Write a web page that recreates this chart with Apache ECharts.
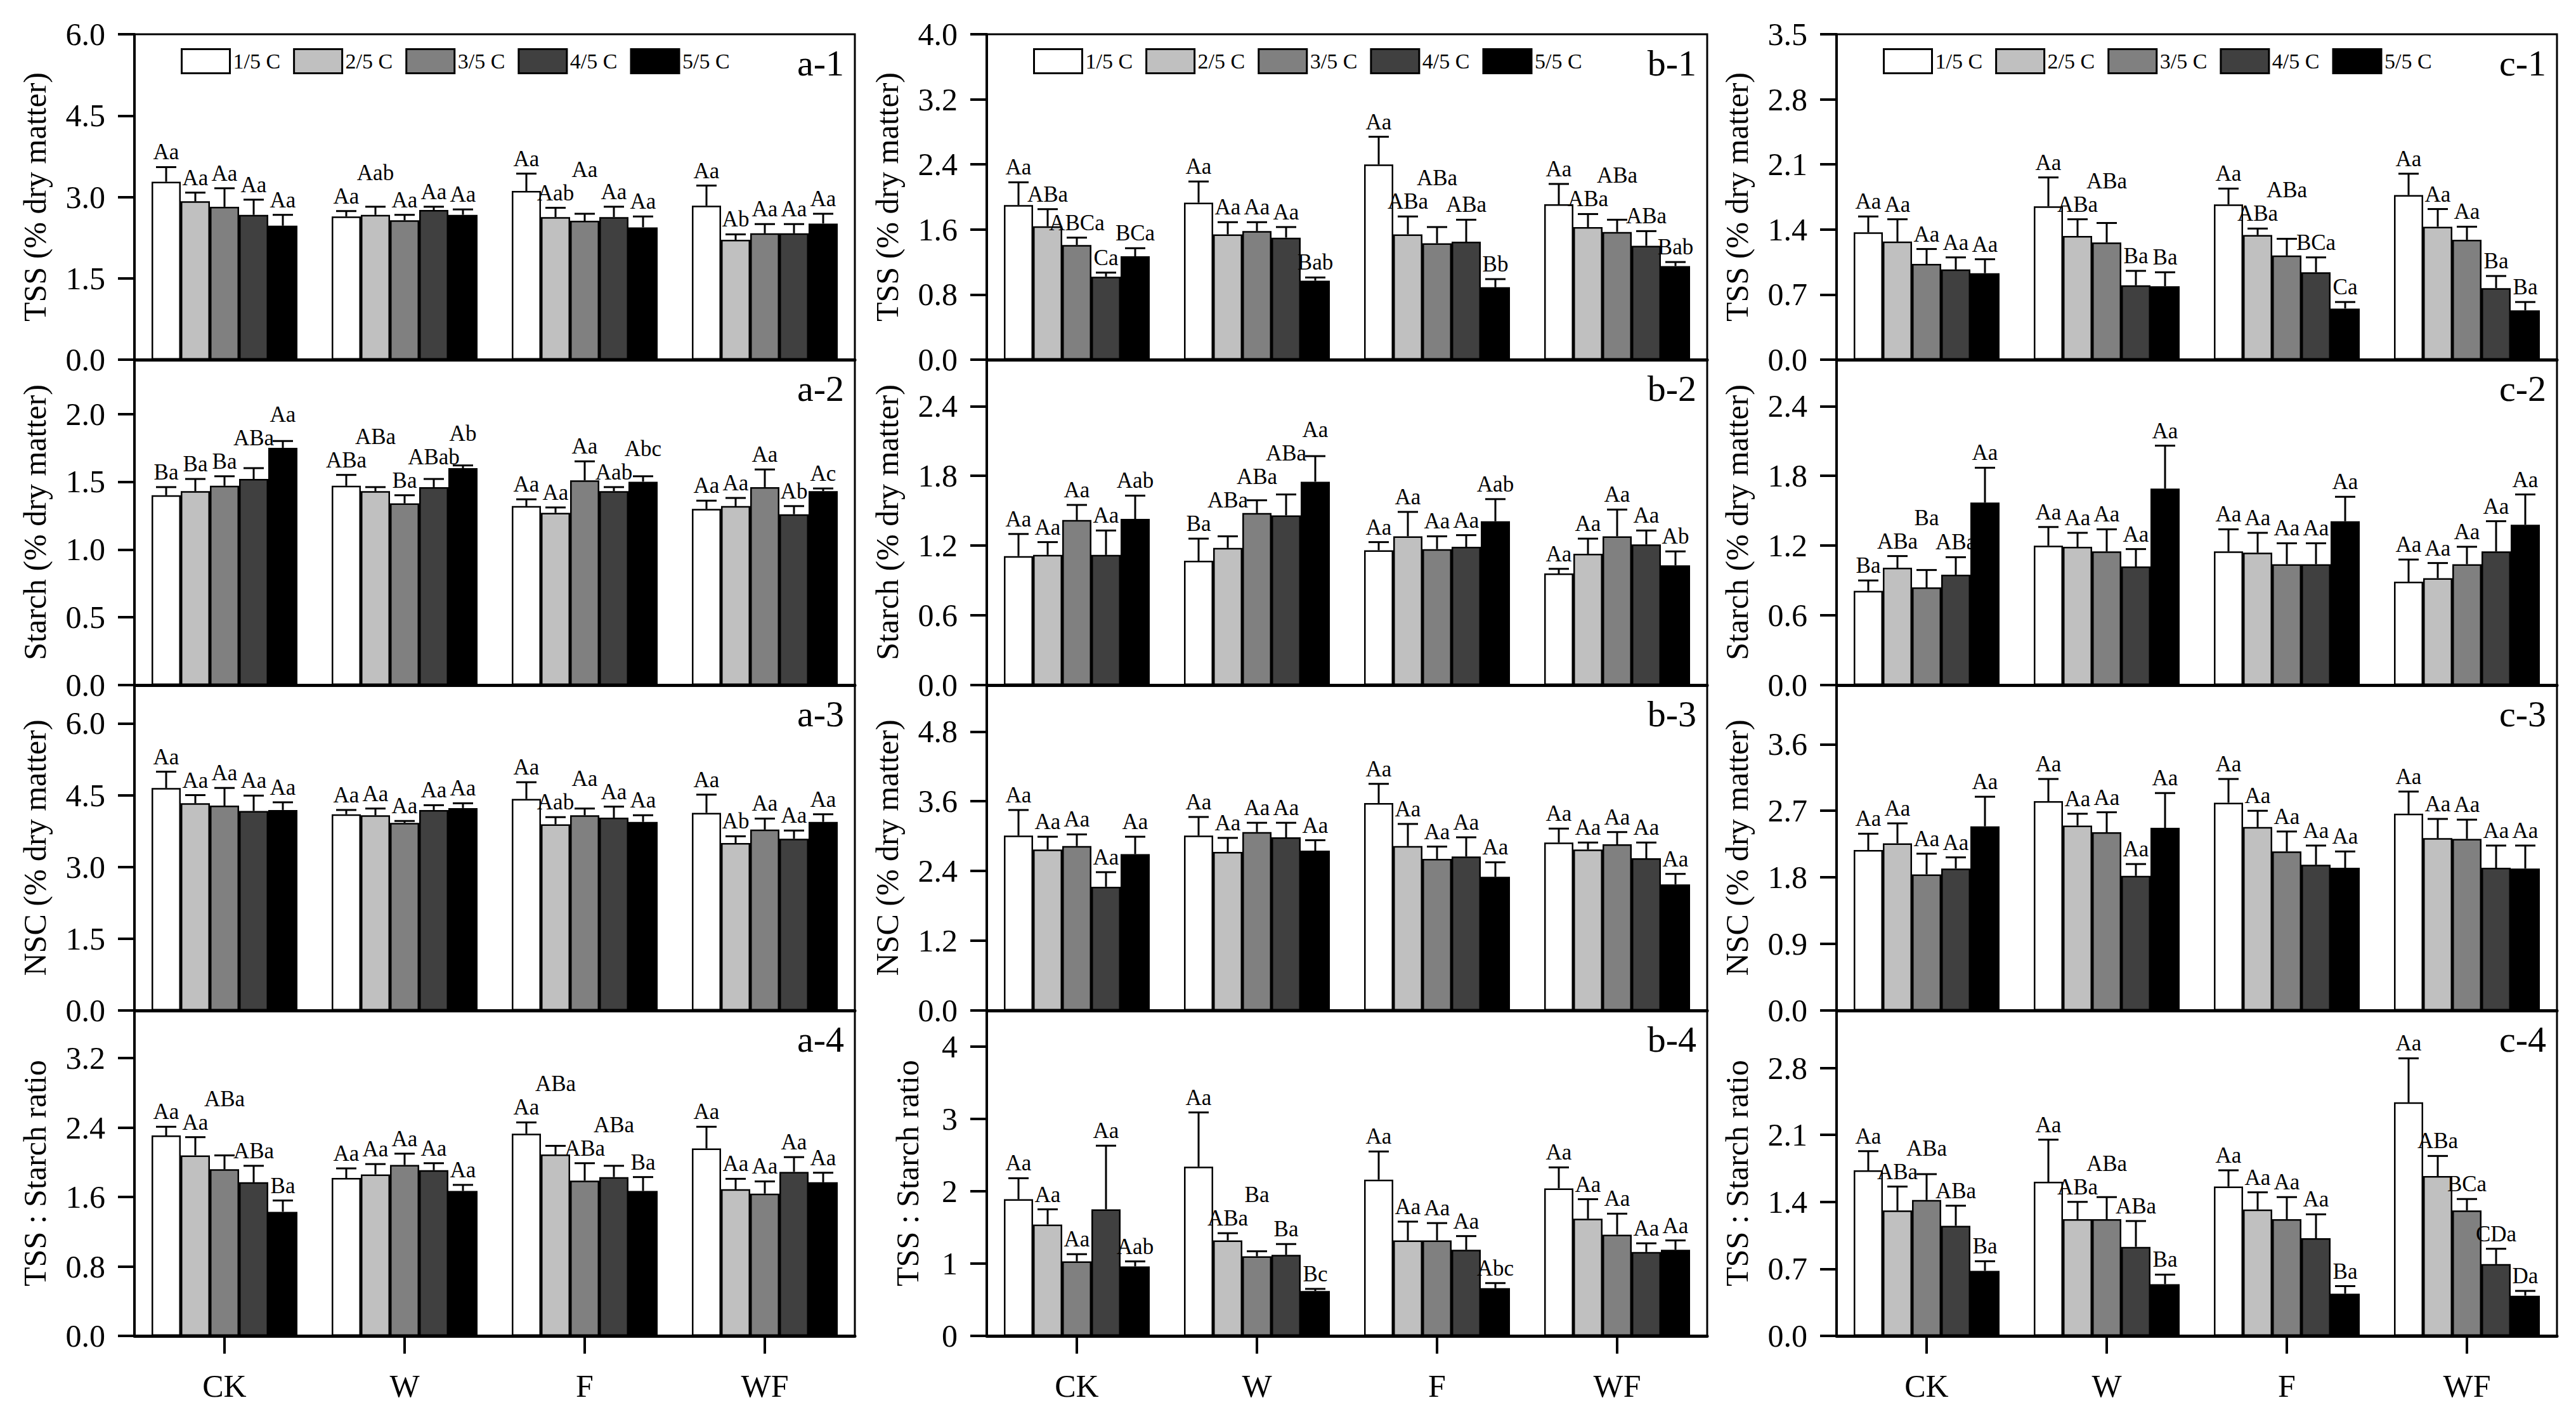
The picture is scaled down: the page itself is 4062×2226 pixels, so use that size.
<!DOCTYPE html>
<html>
<head>
<meta charset="utf-8">
<title>TSS, starch, NSC and TSS:starch ratio</title>
<script src="https://cdn.jsdelivr.net/npm/echarts/dist/echarts.min.js"></script>
<style>
  html, body { margin: 0; padding: 0; background: #fff; }
  #main { width: 4062px; height: 2226px; }
</style>
</head>
<body>
<div id="main"></div>
<script>
'use strict';

const groups = ['CK', 'W', 'F', 'WF'];
const levels = ['1/5 C', '2/5 C', '3/5 C', '4/5 C', '5/5 C'];
const yNames = ['TSS (% dry matter)', 'Starch (% dry matter)', 'NSC (% dry matter)', 'TSS : Starch ratio'];

// rows = CK, W, F, WF ; columns = 1/5 C ... 5/5 C
const a1Mean = [[3.28, 2.92, 2.82, 2.67, 2.47], [2.64, 2.67, 2.57, 2.76, 2.67], [3.11, 2.63, 2.56, 2.63, 2.44], [2.84, 2.21, 2.33, 2.33, 2.51]];
const a1Sd = [[0.27, 0.16, 0.34, 0.28, 0.20], [0.10, 0.15, 0.10, 0.06, 0.10], [0.32, 0.17, 0.13, 0.19, 0.20], [0.37, 0.10, 0.17, 0.17, 0.18]];
const a1Sig = [['Aa', 'Aa', 'Aa', 'Aa', 'Aa'], ['Aa', 'Aab', 'Aa', 'Aa', 'Aa'], ['Aa', 'Aab', 'Aa', 'Aa', 'Aa'], ['Aa', 'Ab', 'Aa', 'Aa', 'Aa']];

const a2Mean = [[1.40, 1.43, 1.47, 1.52, 1.75], [1.47, 1.43, 1.34, 1.46, 1.60], [1.32, 1.27, 1.51, 1.43, 1.50], [1.30, 1.32, 1.46, 1.26, 1.43]];
const a2Sd = [[0.06, 0.09, 0.07, 0.08, 0.05], [0.08, 0.03, 0.06, 0.06, 0.02], [0.05, 0.04, 0.14, 0.03, 0.04], [0.06, 0.06, 0.13, 0.06, 0.02]];
const a2Sig = [['Ba', 'Ba', 'Ba', 'ABa', 'Aa'], ['ABa', 'ABa', 'Ba', 'ABab', 'Ab'], ['Aa', 'Aa', 'Aa', 'Aab', 'Abc'], ['Aa', 'Aa', 'Aa', 'Ab', 'Ac']];

const a3Mean = [[4.65, 4.33, 4.28, 4.17, 4.19], [4.10, 4.08, 3.92, 4.19, 4.23], [4.42, 3.89, 4.08, 4.03, 3.94], [4.13, 3.50, 3.78, 3.59, 3.94]];
const a3Sd = [[0.34, 0.17, 0.37, 0.32, 0.16], [0.09, 0.14, 0.04, 0.10, 0.10], [0.35, 0.15, 0.14, 0.23, 0.14], [0.38, 0.14, 0.23, 0.17, 0.16]];
const a3Sig = [['Aa', 'Aa', 'Aa', 'Aa', 'Aa'], ['Aa', 'Aa', 'Aa', 'Aa', 'Aa'], ['Aa', 'Aab', 'Aa', 'Aa', 'Aa'], ['Aa', 'Ab', 'Aa', 'Aa', 'Aa']];

const a4Mean = [[2.31, 2.08, 1.92, 1.77, 1.43], [1.82, 1.86, 1.97, 1.91, 1.67], [2.33, 2.09, 1.79, 1.83, 1.67], [2.16, 1.69, 1.64, 1.89, 1.77]];
const a4Sd = [[0.10, 0.21, 0.16, 0.19, 0.13], [0.11, 0.12, 0.13, 0.08, 0.07], [0.13, 0.10, 0.20, 0.13, 0.16], [0.25, 0.12, 0.14, 0.17, 0.11]];
const a4Sig = [['Aa', 'Aa', 'ABa', 'ABa', 'Ba'], ['Aa', 'Aa', 'Aa', 'Aa', 'Aa'], ['Aa', 'ABa', 'ABa', 'ABa', 'Ba'], ['Aa', 'Aa', 'Aa', 'Aa', 'Aa']];

const b1Mean = [[1.90, 1.64, 1.41, 1.02, 1.27], [1.93, 1.54, 1.58, 1.50, 0.97], [2.40, 1.54, 1.43, 1.45, 0.89], [1.91, 1.63, 1.57, 1.40, 1.15]];
const b1Sd = [[0.28, 0.21, 0.09, 0.05, 0.10], [0.26, 0.15, 0.11, 0.13, 0.04], [0.34, 0.22, 0.20, 0.27, 0.10], [0.25, 0.16, 0.15, 0.18, 0.05]];
const b1Sig = [['Aa', 'ABa', 'ABCa', 'Ca', 'BCa'], ['Aa', 'Aa', 'Aa', 'Aa', 'Bab'], ['Aa', 'ABa', 'ABa', 'ABa', 'Bb'], ['Aa', 'ABa', 'ABa', 'ABa', 'Bab']];

const b2Mean = [[1.11, 1.12, 1.42, 1.12, 1.43], [1.07, 1.18, 1.48, 1.46, 1.75], [1.16, 1.28, 1.17, 1.19, 1.41], [0.96, 1.13, 1.28, 1.21, 1.03]];
const b2Sd = [[0.19, 0.11, 0.13, 0.21, 0.20], [0.19, 0.10, 0.11, 0.18, 0.22], [0.07, 0.21, 0.11, 0.10, 0.19], [0.04, 0.13, 0.23, 0.12, 0.12]];
const b2Sig = [['Aa', 'Aa', 'Aa', 'Aa', 'Aab'], ['Ba', 'ABa', 'ABa', 'ABa', 'Aa'], ['Aa', 'Aa', 'Aa', 'Aa', 'Aab'], ['Aa', 'Aa', 'Aa', 'Aa', 'Ab']];

const b3Mean = [[3.01, 2.77, 2.83, 2.13, 2.69], [3.01, 2.73, 3.07, 2.98, 2.75], [3.57, 2.83, 2.61, 2.65, 2.30], [2.89, 2.77, 2.86, 2.62, 2.17]];
const b3Sd = [[0.44, 0.22, 0.20, 0.25, 0.30], [0.32, 0.24, 0.16, 0.25, 0.18], [0.33, 0.38, 0.21, 0.33, 0.25], [0.24, 0.12, 0.21, 0.27, 0.18]];
const b3Sig = [['Aa', 'Aa', 'Aa', 'Aa', 'Aa'], ['Aa', 'Aa', 'Aa', 'Aa', 'Aa'], ['Aa', 'Aa', 'Aa', 'Aa', 'Aa'], ['Aa', 'Aa', 'Aa', 'Aa', 'Aa']];

const b4Mean = [[1.89, 1.54, 1.03, 1.75, 0.96], [2.34, 1.32, 1.10, 1.12, 0.62], [2.16, 1.32, 1.32, 1.19, 0.66], [2.04, 1.62, 1.40, 1.16, 1.19]];
const b4Sd = [[0.29, 0.21, 0.10, 0.88, 0.07], [0.75, 0.10, 0.07, 0.15, 0.03], [0.39, 0.26, 0.24, 0.19, 0.07], [0.29, 0.27, 0.29, 0.12, 0.13]];
const b4Sig = [['Aa', 'Aa', 'Aa', 'Aa', 'Aab'], ['Aa', 'ABa', 'Ba', 'Ba', 'Bc'], ['Aa', 'Aa', 'Aa', 'Aa', 'Abc'], ['Aa', 'Aa', 'Aa', 'Aa', 'Aa']];

const c1Mean = [[1.37, 1.27, 1.03, 0.97, 0.93], [1.65, 1.33, 1.26, 0.80, 0.79], [1.67, 1.34, 1.12, 0.94, 0.55], [1.77, 1.43, 1.29, 0.77, 0.53]];
const c1Sd = [[0.17, 0.24, 0.16, 0.13, 0.15], [0.31, 0.18, 0.21, 0.155, 0.15], [0.17, 0.07, 0.18, 0.16, 0.07], [0.23, 0.19, 0.14, 0.13, 0.09]];
const c1Sig = [['Aa', 'Aa', 'Aa', 'Aa', 'Aa'], ['Aa', 'ABa', 'ABa', 'Ba', 'Ba'], ['Aa', 'ABa', 'ABa', 'BCa', 'Ca'], ['Aa', 'Aa', 'Aa', 'Ba', 'Ba']];

const c2Mean = [[0.81, 1.01, 0.84, 0.95, 1.57], [1.20, 1.19, 1.15, 1.02, 1.69], [1.15, 1.14, 1.04, 1.04, 1.41], [0.89, 0.92, 1.04, 1.15, 1.38]];
const c2Sd = [[0.09, 0.10, 0.15, 0.15, 0.30], [0.16, 0.12, 0.19, 0.15, 0.37], [0.19, 0.17, 0.18, 0.18, 0.21], [0.19, 0.13, 0.15, 0.26, 0.26]];
const c2Sig = [['Ba', 'ABa', 'Ba', 'ABa', 'Aa'], ['Aa', 'Aa', 'Aa', 'Aa', 'Aa'], ['Aa', 'Aa', 'Aa', 'Aa', 'Aa'], ['Aa', 'Aa', 'Aa', 'Aa', 'Aa']];

const c3Mean = [[2.17, 2.26, 1.84, 1.92, 2.49], [2.83, 2.50, 2.41, 1.82, 2.47], [2.81, 2.48, 2.15, 1.97, 1.93], [2.66, 2.33, 2.32, 1.93, 1.92]];
const c3Sd = [[0.22, 0.27, 0.28, 0.15, 0.40], [0.30, 0.16, 0.27, 0.16, 0.47], [0.32, 0.22, 0.27, 0.26, 0.22], [0.30, 0.26, 0.26, 0.30, 0.31]];
const c3Sig = [['Aa', 'Aa', 'Aa', 'Aa', 'Aa'], ['Aa', 'Aa', 'Aa', 'Aa', 'Aa'], ['Aa', 'Aa', 'Aa', 'Aa', 'Aa'], ['Aa', 'Aa', 'Aa', 'Aa', 'Aa']];

const c4Mean = [[1.73, 1.31, 1.42, 1.15, 0.68], [1.61, 1.22, 1.22, 0.93, 0.54], [1.56, 1.32, 1.22, 1.02, 0.44], [2.44, 1.67, 1.31, 0.75, 0.42]];
const c4Sd = [[0.20, 0.25, 0.27, 0.21, 0.10], [0.44, 0.18, 0.23, 0.27, 0.10], [0.17, 0.18, 0.23, 0.25, 0.08], [0.46, 0.21, 0.12, 0.16, 0.05]];
const c4Sig = [['Aa', 'ABa', 'ABa', 'ABa', 'Ba'], ['Aa', 'ABa', 'ABa', 'ABa', 'Ba'], ['Aa', 'Aa', 'Aa', 'Aa', 'Ba'], ['Aa', 'ABa', 'BCa', 'CDa', 'Da']];

// y axis ranges: max and tick step of each panel
const axisMax = { a: [6.0, 2.4, 6.8, 3.75], b: [4.0, 2.8, 5.6, 4.5], c: [3.5, 2.8, 4.4, 3.4] };
const axisStep = { a: [1.5, 0.5, 1.5, 0.8], b: [0.8, 0.6, 1.2, 1], c: [0.7, 0.6, 0.9, 0.7] };

const panels = [
    { tag: 'a-1', col: 0, row: 0, mean: a1Mean, sd: a1Sd, sig: a1Sig },
    { tag: 'a-2', col: 0, row: 1, mean: a2Mean, sd: a2Sd, sig: a2Sig },
    { tag: 'a-3', col: 0, row: 2, mean: a3Mean, sd: a3Sd, sig: a3Sig },
    { tag: 'a-4', col: 0, row: 3, mean: a4Mean, sd: a4Sd, sig: a4Sig },
    { tag: 'b-1', col: 1, row: 0, mean: b1Mean, sd: b1Sd, sig: b1Sig },
    { tag: 'b-2', col: 1, row: 1, mean: b2Mean, sd: b2Sd, sig: b2Sig },
    { tag: 'b-3', col: 1, row: 2, mean: b3Mean, sd: b3Sd, sig: b3Sig },
    { tag: 'b-4', col: 1, row: 3, mean: b4Mean, sd: b4Sd, sig: b4Sig },
    { tag: 'c-1', col: 2, row: 0, mean: c1Mean, sd: c1Sd, sig: c1Sig },
    { tag: 'c-2', col: 2, row: 1, mean: c2Mean, sd: c2Sd, sig: c2Sig },
    { tag: 'c-3', col: 2, row: 2, mean: c3Mean, sd: c3Sd, sig: c3Sig },
    { tag: 'c-4', col: 2, row: 3, mean: c4Mean, sd: c4Sd, sig: c4Sig }
];

const FONT = '"Liberation Serif", "Times New Roman", serif';
const colLeft = [212, 1556, 2896];
const gridW = 1136;
const rowTop = [54, 567, 1080, 1593];
const rowH = 513;
const barW = 46;
const barColors = ['#ffffff', '#c0c0c0', '#808080', '#404040', '#000000'];
const SIG_SIZE = 35;

// text width for the letter labels
const measureCtx = document.createElement('canvas').getContext('2d');
measureCtx.font = SIG_SIZE + 'px "Liberation Serif"';
const textW = t => measureCtx.measureText(t).width;

// place the letters of one group above the error bars, lifting a label
// when it would run into one already placed
const placeSig = (api, p, gi) => {
    const out = [];
    const lh = SIG_SIZE + 2;
    for (let s = 0; s < 5; s++) {
        const top = api.coord([gi, p.mean[gi][s] + p.sd[gi][s]]);
        const x = top[0] + (s - 2) * barW;
        const w = textW(p.sig[gi][s]);
        let y = top[1] - 6;
        let moved = true;
        while (moved) {
            moved = false;
            out.forEach(q => {
                const hit = Math.abs(q.x - x) < (q.w + w) / 2 + 2 && y > q.y - lh && y - lh < q.y;
                if (hit) {
                    y = q.y - lh;
                    moved = true;
                }
            });
        }
        out.push({ x: x, y: y, w: w });
    }
    return out;
};

const chart = echarts.init(document.getElementById('main'), null, { renderer: 'svg' });

let option = {
    backgroundColor: '#ffffff',
    animation: false,
    grid: [],
    xAxis: [],
    yAxis: [],
    legend: [],
    graphic: [],
    series: []
};

panels.forEach((p, k) => {
    const colKey = p.tag[0];
    const max = axisMax[colKey][p.row];
    const step = axisStep[colKey][p.row];
    const niceTop = Math.abs(max / step - Math.round(max / step)) < 1e-6;
    const isBottom = p.row === 3;
    const intLabels = p.tag === 'b-4';

    option.grid.push({
        left: colLeft[p.col],
        top: rowTop[p.row],
        width: gridW,
        height: rowH,
        show: true,
        borderColor: '#000',
        borderWidth: 3
    });

    option.xAxis.push({
        type: 'category',
        gridIndex: k,
        data: groups,
        axisLine: { lineStyle: { color: '#000', width: 5 } },
        axisTick: { show: isBottom, alignWithLabel: true, length: 28, lineStyle: { color: '#000', width: 4 } },
        axisLabel: { show: isBottom, margin: 54, fontSize: 50, fontFamily: FONT, color: '#000' },
        splitLine: { show: false }
    });

    option.yAxis.push({
        type: 'value',
        gridIndex: k,
        min: 0,
        max: max,
        interval: step,
        name: yNames[p.row],
        nameLocation: 'middle',
        nameGap: intLabels ? 100 : 132,
        nameTextStyle: { fontSize: 50, fontFamily: FONT, color: '#000' },
        axisLine: { show: true, lineStyle: { color: '#000', width: 4 } },
        axisTick: { show: true, length: 26, lineStyle: { color: '#000', width: 4 } },
        axisLabel: {
            margin: 46,
            fontSize: 50,
            fontFamily: FONT,
            color: '#000',
            showMaxLabel: niceTop,
            formatter: v => v.toFixed(intLabels ? 0 : 1)
        },
        splitLine: { show: false }
    });

    levels.forEach((lv, s) => {
        option.series.push({
            type: 'bar',
            name: lv,
            xAxisIndex: k,
            yAxisIndex: k,
            data: p.mean.map(g => g[s]),
            barWidth: barW,
            barGap: '0%',
            silent: true,
            itemStyle: { color: barColors[s], borderColor: '#000', borderWidth: 2.5 }
        });
    });

    // error bars (upper only) and significance letters
    const items = [];
    p.mean.forEach((g, gi) => {
        g.forEach((m, s) => {
            items.push([gi, m, p.sd[gi][s], s]);
        });
    });

    option.series.push({
        type: 'custom',
        xAxisIndex: k,
        yAxisIndex: k,
        data: items,
        z: 5,
        silent: true,
        renderItem: (params, api) => {
            const it = items[params.dataIndex];
            const gi = it[0], m = it[1], sd = it[2], s = it[3];
            const pBar = api.coord([gi, m]);
            const pTop = api.coord([gi, m + sd]);
            const x = pBar[0] + (s - 2) * barW;
            const lab = placeSig(api, p, gi)[s];
            return {
                type: 'group',
                children: [
                    { type: 'line', shape: { x1: x, y1: pBar[1], x2: x, y2: pTop[1] }, style: { stroke: '#000', lineWidth: 3 } },
                    { type: 'line', shape: { x1: x - 16, y1: pTop[1], x2: x + 16, y2: pTop[1] }, style: { stroke: '#000', lineWidth: 3 } },
                    {
                        type: 'text',
                        x: lab.x,
                        y: lab.y,
                        style: {
                            text: p.sig[gi][s],
                            align: 'center',
                            verticalAlign: 'bottom',
                            fontSize: SIG_SIZE,
                            fontFamily: FONT,
                            fill: '#000'
                        }
                    }
                ]
            };
        }
    });

    option.graphic.push({
        type: 'text',
        x: colLeft[p.col] + gridW - 17,
        y: rowTop[p.row] + 16,
        z: 10,
        style: {
            text: p.tag,
            align: 'right',
            verticalAlign: 'top',
            fontSize: 58,
            fontFamily: FONT,
            fill: '#000'
        }
    });
});

//legend inside each top panel
colLeft.forEach(left => {
    option.legend.push({
        data: levels,
        left: left + 73,
        top: 76,
        padding: 0,
        icon: 'rect',
        itemWidth: 76,
        itemHeight: 38,
        itemGap: 20,
        selectedMode: false,
        itemStyle: { borderColor: '#000', borderWidth: 3 },
        textStyle: { fontSize: 34, fontFamily: FONT, color: '#000' }
    });
});

chart.setOption(option);
</script>
</body>
</html>
